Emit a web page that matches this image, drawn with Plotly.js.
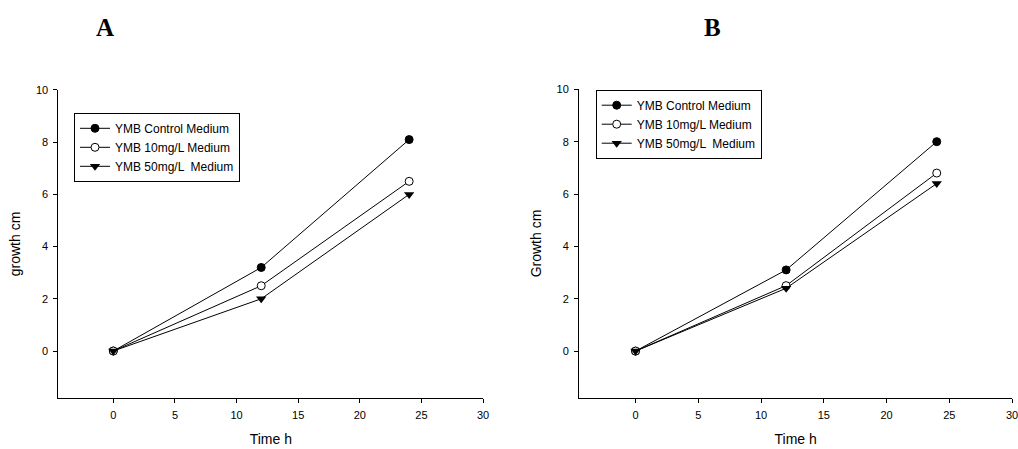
<!DOCTYPE html>
<html>
<head>
<meta charset="utf-8">
<script src="https://cdn.plot.ly/plotly-3.0.1.min.js"></script>
<style>html,body{margin:0;padding:0;background:#fff;}#chart{width:1018px;height:449px;}</style>
</head>
<body>
<div id="chart"></div>
<script>
// Data
const timeH = [0, 12, 24];
const seriesNames = ["YMB Control Medium", "YMB 10mg/L Medium", "YMB 50mg/L  Medium"];
const panelA_control = [0, 3.2, 8.1];
const panelA_10mg = [0, 2.5, 6.5];
const panelA_50mg = [0, 2.0, 6.0];
const panelB_control = [0, 3.1, 8.0];
const panelB_10mg = [0, 2.5, 6.8];
const panelB_50mg = [0, 2.4, 6.4];
const xTicks = [0, 5, 10, 15, 20, 25, 30];
const yTicks = [0, 2, 4, 6, 8, 10];

const markerStyles = [
  {symbol: "circle", color: "#000", size: 8, line: {color: "#000", width: 1}},
  {symbol: "circle", color: "#fff", size: 8, line: {color: "#000", width: 1}},
  {symbol: "triangle-down", color: "#000", size: 9, line: {color: "#000", width: 0}}
];

function mk(y, i, xa, ya, leg) {
  return {
    x: timeH, y: y, type: "scatter", mode: "lines+markers",
    name: seriesNames[i], xaxis: xa, yaxis: ya, legend: leg,
    line: {color: "#000", width: 1},
    marker: markerStyles[i],
    cliponaxis: false
  };
}

const data = [
  mk(panelA_control, 0, "x", "y", "legend"),
  mk(panelA_10mg, 1, "x", "y", "legend"),
  mk(panelA_50mg, 2, "x", "y", "legend"),
  mk(panelB_control, 0, "x2", "y2", "legend2"),
  mk(panelB_10mg, 1, "x2", "y2", "legend2"),
  mk(panelB_50mg, 2, "x2", "y2", "legend2")
];

const fam = "Liberation Sans, Arial, sans-serif";
const font = {family: fam, size: 11, color: "#000"};
const titleFont = {family: fam, size: 14, color: "#000"};
function xax(domain, range, anchor) {
  return {
    domain: domain, range: range, anchor: anchor,
    tickmode: "array", tickvals: xTicks, ticktext: xTicks.map(String),
    ticks: "outside", ticklen: 4, tickcolor: "#000", tickwidth: 1,
    ticklabeloverflow: "allow", ticklabelstandoff: 3,
    showline: true, linecolor: "#000", linewidth: 1, showgrid: false, zeroline: false,
    tickfont: font, title: {text: "Time h", font: titleFont, standoff: 14}
  };
}
function yax(domain, range, anchor, title) {
  return {
    domain: domain, range: range, anchor: anchor,
    tickmode: "array", tickvals: yTicks, ticktext: yTicks.map(String),
    ticks: "outside", ticklen: 4, tickcolor: "#000", tickwidth: 1,
    ticklabeloverflow: "allow", ticklabelstandoff: 3,
    showline: true, linecolor: "#000", linewidth: 1, showgrid: false, zeroline: false,
    tickfont: font, title: {text: title, font: titleFont, standoff: 11}
  };
}
const legendStyle = {
  xanchor: "left", yanchor: "middle", bgcolor: "#fff", bordercolor: "#000", borderwidth: 1,
  font: {family: fam, size: 12, color: "#000"}, itemwidth: 30, tracegroupgap: 0
};

const layout = {
  width: 1018, height: 449,
  margin: {l: 0, r: 0, t: 0, b: 0},
  paper_bgcolor: "#fff", plot_bgcolor: "#fff",
  font: font,
  showlegend: true,
  xaxis: xax([0.0573, 0.4748], [-4.46, 30.02], "y"),
  yaxis: yax([0.1136, 0.7996], [-1.8, 10], "x", "growth cm"),
  xaxis2: xax([0.5688, 0.9944], [-4.5, 30.02], "y2"),
  yaxis2: yax([0.1143, 0.8011], [-1.78, 10], "x2", "Growth cm"),
  legend: Object.assign({x: 74/1018, y: 1 - 147.3/449}, legendStyle),
  legend2: Object.assign({x: 595.7/1018, y: 1 - 124.2/449}, legendStyle),
  annotations: [
    {text: "<b>A</b>", x: 105/1018, y: 1 - 27/449, xref: "paper", yref: "paper", showarrow: false,
     xanchor: "center", yanchor: "middle",
     font: {family: "Liberation Serif, Times New Roman, serif", size: 25, color: "#000"}},
    {text: "<b>B</b>", x: 712/1018, y: 1 - 27/449, xref: "paper", yref: "paper", showarrow: false,
     xanchor: "center", yanchor: "middle",
     font: {family: "Liberation Serif, Times New Roman, serif", size: 25, color: "#000"}}
  ]
};

Plotly.newPlot("chart", data, layout, {displayModeBar: false, staticPlot: true});
</script>
</body>
</html>
